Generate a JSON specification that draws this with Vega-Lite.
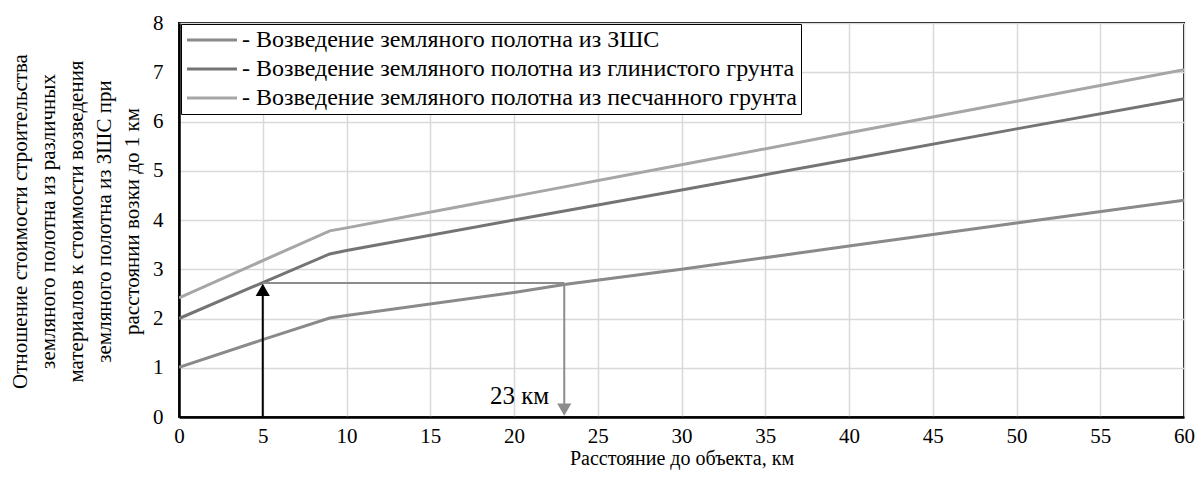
{
  "$schema": "https://vega.github.io/schema/vega-lite/v6.json",
  "width": 1005,
  "height": 394,
  "autosize": "none",
  "padding": {"left": 179, "top": 23, "right": 15, "bottom": 62},
  "background": "white",
  "config": {
    "view": {"stroke": "black", "strokeWidth": 2},
    "font": "Liberation Serif",
    "legend": {"strokeColor": "black", "fillColor": "white"}
  },
  "resolve": {"scale": {"color": "independent", "shape": "independent", "fill": "independent"}},
  "datasets": {
    "series": [
      {"series": "Возведение земляного полотна из ЗШС", "x": 0, "y": 1.01},
      {"series": "Возведение земляного полотна из ЗШС", "x": 5, "y": 1.57},
      {"series": "Возведение земляного полотна из ЗШС", "x": 9, "y": 2.01},
      {"series": "Возведение земляного полотна из ЗШС", "x": 10, "y": 2.06},
      {"series": "Возведение земляного полотна из ЗШС", "x": 20, "y": 2.53},
      {"series": "Возведение земляного полотна из ЗШС", "x": 23, "y": 2.69},
      {"series": "Возведение земляного полотна из ЗШС", "x": 30, "y": 3.0},
      {"series": "Возведение земляного полотна из ЗШС", "x": 40, "y": 3.47},
      {"series": "Возведение земляного полотна из ЗШС", "x": 50, "y": 3.94},
      {"series": "Возведение земляного полотна из ЗШС", "x": 60, "y": 4.4},
      {"series": "Возведение земляного полотна из глинистого грунта", "x": 0, "y": 2.0},
      {"series": "Возведение земляного полотна из глинистого грунта", "x": 5, "y": 2.73},
      {"series": "Возведение земляного полотна из глинистого грунта", "x": 9, "y": 3.31},
      {"series": "Возведение земляного полотна из глинистого грунта", "x": 10, "y": 3.38},
      {"series": "Возведение земляного полотна из глинистого грунта", "x": 20, "y": 4.0},
      {"series": "Возведение земляного полотна из глинистого грунта", "x": 30, "y": 4.61},
      {"series": "Возведение земляного полотна из глинистого грунта", "x": 40, "y": 5.23},
      {"series": "Возведение земляного полотна из глинистого грунта", "x": 50, "y": 5.85},
      {"series": "Возведение земляного полотна из глинистого грунта", "x": 60, "y": 6.46},
      {"series": "Возведение земляного полотна из песчанного грунта", "x": 0, "y": 2.42},
      {"series": "Возведение земляного полотна из песчанного грунта", "x": 9, "y": 3.78},
      {"series": "Возведение земляного полотна из песчанного грунта", "x": 10, "y": 3.84},
      {"series": "Возведение земляного полотна из песчанного грунта", "x": 20, "y": 4.48},
      {"series": "Возведение земляного полотна из песчанного грунта", "x": 30, "y": 5.12},
      {"series": "Возведение земляного полотна из песчанного грунта", "x": 40, "y": 5.77},
      {"series": "Возведение земляного полотна из песчанного грунта", "x": 50, "y": 6.41},
      {"series": "Возведение земляного полотна из песчанного грунта", "x": 60, "y": 7.05}
    ],
    "rules": [
      {"part": "up", "x": 5, "y": 0, "x2": 5, "y2": 2.55},
      {"part": "across", "x": 5, "y": 2.72, "x2": 23, "y2": 2.72},
      {"part": "down", "x": 23, "y": 2.72, "x2": 23, "y2": 0.25}
    ],
    "heads": [
      {"part": "up", "x": 5, "y": 2.58},
      {"part": "down", "x": 23, "y": 0.15}
    ],
    "labels": [
      {"x": 22.1, "y": 0.27, "text": "23 км"}
    ]
  },
  "layer": [
    {
      "data": {"name": "series"},
      "mark": {"type": "line", "strokeWidth": 3, "clip": true},
      "encoding": {
        "x": {
          "field": "x", "type": "quantitative",
          "scale": {"domain": [0, 60], "nice": false, "zero": false},
          "axis": {
            "values": [0, 5, 10, 15, 20, 25, 30, 35, 40, 45, 50, 55, 60],
            "title": "Расстояние до объекта, км",
            "titleFont": "Liberation Serif", "titleFontSize": 20, "titleFontWeight": "normal",
            "titleColor": "black", "titlePadding": 2,
            "labelFont": "Liberation Serif", "labelFontSize": 21, "labelColor": "black",
            "labelPadding": 8, "ticks": false,
            "domainColor": "black", "domainWidth": 2.5,
            "grid": true, "gridColor": "#d9d9d9", "gridWidth": 1.5,
            "labelFlush": false
          }
        },
        "y": {
          "field": "y", "type": "quantitative",
          "scale": {"domain": [0, 8], "nice": false},
          "axis": {
            "values": [0, 1, 2, 3, 4, 5, 6, 7, 8],
            "title": [
              "Отношение стоимости строительства",
              "земляного полотна из различных",
              "материалов к стоимости возведения",
              "земляного полотна из ЗШС при",
              "расстоянии возки до 1 км"
            ],
            "titleFont": "Liberation Serif", "titleFontSize": 21, "titleFontWeight": "normal",
            "titleColor": "black", "titleLineHeight": 28,
            "titleAngle": -90, "titleAlign": "center", "titleBaseline": "top",
            "titleX": -170, "titleY": 198,
            "labelFont": "Liberation Serif", "labelFontSize": 21, "labelColor": "black",
            "labelPadding": 16, "ticks": false,
            "domainColor": "black", "domainWidth": 2.5,
            "grid": true, "gridColor": "#d9d9d9", "gridWidth": 1.5,
            "labelFlush": false
          }
        },
        "color": {
          "field": "series", "type": "nominal",
          "scale": {
            "domain": [
              "Возведение земляного полотна из ЗШС",
              "Возведение земляного полотна из глинистого грунта",
              "Возведение земляного полотна из песчанного грунта"
            ],
            "range": ["#8a8a8a", "#747474", "#a6a6a6"]
          },
          "legend": {
            "title": null,
            "orient": "none",
            "legendX": 2,
            "legendY": 1,
            "direction": "vertical",
            "symbolType": "M-1,0H4",
            "symbolSize": 400,
            "symbolStrokeWidth": 3,
            "labelFont": "Liberation Serif",
            "labelFontSize": 24,
            "labelColor": "black",
            "labelLimit": 800,
            "labelOffset": 33,
            "labelExpr": "'- ' + datum.label",
            "rowPadding": 5,
            "padding": 4,
            "strokeColor": "black",
            "fillColor": "white",
            "cornerRadius": 0
          }
        }
      }
    },
    {
      "data": {"name": "rules"},
      "mark": {"type": "rule", "strokeWidth": 2},
      "encoding": {
        "x": {"field": "x", "type": "quantitative"},
        "y": {"field": "y", "type": "quantitative"},
        "x2": {"field": "x2"},
        "y2": {"field": "y2"},
        "stroke": {
          "field": "part", "type": "nominal",
          "scale": {"domain": ["up", "across", "down"], "range": ["#000000", "#8c8c8c", "#8c8c8c"]},
          "legend": null
        }
      }
    },
    {
      "data": {"name": "heads"},
      "mark": {"type": "point", "filled": true, "size": 200, "opacity": 1},
      "encoding": {
        "x": {"field": "x", "type": "quantitative"},
        "y": {"field": "y", "type": "quantitative"},
        "shape": {
          "field": "part", "type": "nominal",
          "scale": {"domain": ["up", "down"], "range": ["triangle-up", "triangle-down"]},
          "legend": null
        },
        "fill": {
          "field": "part", "type": "nominal",
          "scale": {"domain": ["up", "down"], "range": ["#000000", "#8c8c8c"]},
          "legend": null
        }
      }
    },
    {
      "data": {"name": "labels"},
      "mark": {"type": "text", "align": "right", "baseline": "alphabetic", "font": "Liberation Serif", "fontSize": 25, "color": "black"},
      "encoding": {
        "x": {"field": "x", "type": "quantitative"},
        "y": {"field": "y", "type": "quantitative"},
        "text": {"field": "text"}
      }
    }
  ]
}
